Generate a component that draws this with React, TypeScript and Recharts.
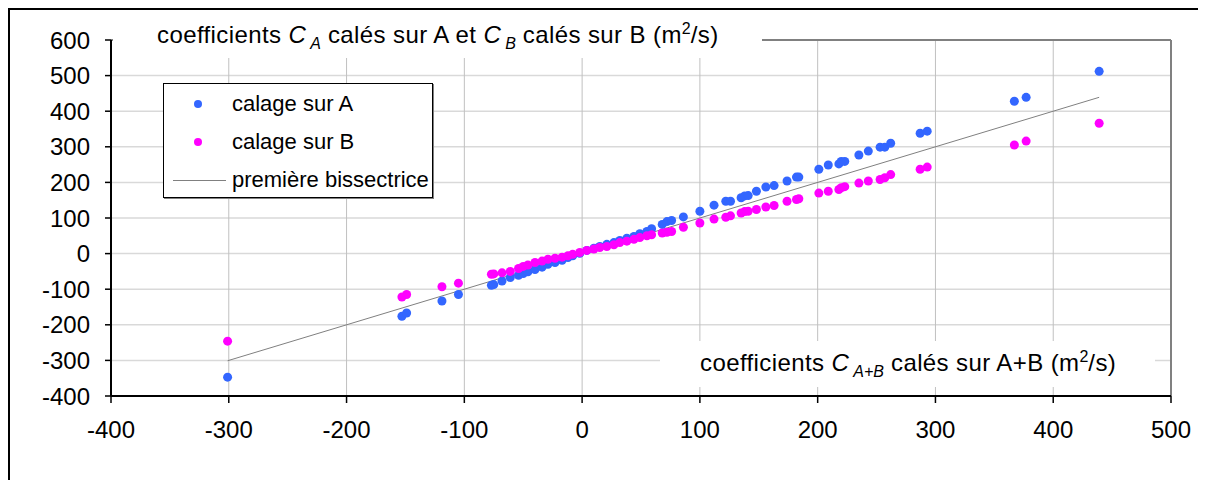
import React from 'react';
import {
  ScatterChart,
  Scatter,
  XAxis,
  YAxis,
  CartesianGrid,
  ReferenceLine,
} from 'recharts';

// C(A+B) on the x axis, the matching C(A) and C(B) on the y axis
const coeffAB = [
  -301, -153, -149, -119, -105, -77, -75, -68, -61, -54, -50, -46, -40, -34, -29, -23, -17, -12, -8, -2,
  4, 10, 15, 21, 27, 32, 38, 44, 49, 55, 59, 68, 72, 76, 86, 100, 112, 122, 126, 135,
  138, 141, 148, 156, 163, 174, 182, 184, 201, 209, 218, 220, 223, 235, 243, 253, 257, 262, 287, 293,
  367, 377, 439,
];
const calageA = [
  -347, -176, -167, -133, -115, -89, -87, -77, -67, -61, -56, -51, -45, -38, -30, -25, -19, -11, -6, 1,
  9, 15, 20, 26, 31, 37, 43, 48, 56, 62, 70, 82, 90, 93, 103, 119, 136, 147, 147, 157,
  162, 163, 175, 187, 191, 204, 215, 215, 237, 249, 252, 259, 259, 277, 288, 299, 299, 310, 338, 344,
  428, 439, 512,
];
const calageB = [
  -246, -122, -115, -93, -83, -58, -57, -54, -50, -42, -36, -32, -25, -21, -16, -13, -10, -6, -2, 3,
  9, 13, 17, 20, 25, 31, 35, 40, 45, 50, 53, 58, 60, 62, 74, 86, 97, 102, 106, 114,
  118, 119, 124, 131, 135, 147, 152, 154, 170, 175, 180, 185, 188, 198, 204, 208, 213, 222, 237, 243,
  305, 316, 366,
];
const xTicks = [-400, -300, -200, -100, 0, 100, 200, 300, 400, 500];
const yTicks = [-400, -300, -200, -100, 0, 100, 200, 300, 400, 500, 600];

const seriesNames = ['calage sur A', 'calage sur B', 'première bissectrice'];
const seriesColors = ['#3366ff', '#ff00ff', '#808080'];

const pointsA = coeffAB.map((x, i) => ({ x, y: calageA[i] }));
const pointsB = coeffAB.map((x, i) => ({ x, y: calageB[i] }));
const xMin = Math.min(...coeffAB);
const xMax = Math.max(...coeffAB);

const FONT = '"Liberation Sans", Arial, sans-serif';

const dot = (color: string) => (props: any) =>
  <circle cx={props.cx} cy={props.cy} r={4.5} fill={color} />;

const sub = (t: string) => (
  <span style={{ fontSize: 16, fontStyle: 'italic', position: 'relative', top: 6, marginLeft: 4, letterSpacing: 0 }}>{t}</span>
);
const sup = (t: string) => (
  <span style={{ fontSize: 16, position: 'relative', top: -9, letterSpacing: 0 }}>{t}</span>
);

const LegendBox = () => (
  <div
    style={{
      position: 'absolute', left: 163, top: 83, width: 270, height: 115, boxSizing: 'border-box',
      border: '1px solid #000', boxShadow: '1px 1px 0 #808080', background: '#fff',
      fontFamily: FONT, fontSize: 22,
    }}
  >
    {seriesNames.map((name, i) => (
      <div key={name} style={{ position: 'absolute', left: 0, top: 20 + i * 38 - 14, height: 28, width: '100%' }}>
        {i < 2 ? (
          <div style={{ position: 'absolute', left: 30, top: 10, width: 8, height: 8, borderRadius: 4, background: seriesColors[i] }} />
        ) : (
          <div style={{ position: 'absolute', left: 9, top: 14, width: 53, height: 1, background: seriesColors[i] }} />
        )}
        <div style={{ position: 'absolute', left: 68, top: 0, lineHeight: '28px', whiteSpace: 'nowrap' }}>{name}</div>
      </div>
    ))}
  </div>
);

const titleStyle: React.CSSProperties = {
  position: 'absolute', background: '#fff', fontFamily: FONT, fontSize: 24, letterSpacing: 0.4,
  boxSizing: 'border-box', whiteSpace: 'nowrap', height: 46,
};

export default function App() {
  return (
    <div
      style={{
        position: 'relative', width: 1196, height: 470, overflow: 'hidden',
        borderTop: '2px solid #000', borderLeft: '2px solid #000', background: '#fff',
      }}
    >
      <div style={{ position: 'absolute', left: -10, top: -10, width: 1206, height: 482 }}>
        <ScatterChart width={1206} height={482} margin={{ top: 40, right: 35, bottom: 36, left: 51 }}>
          <CartesianGrid vertical={false} stroke="#d9d9d9" strokeWidth={1.5} />
          <CartesianGrid horizontal={false} stroke="#c0c0c0" />
          <XAxis
            type="number"
            dataKey="x"
            domain={[-400, 500]}
            ticks={xTicks}
            height={50}
            tickSize={7}
            tickMargin={18}
            axisLine={{ stroke: '#000', strokeWidth: 2 }}
            tickLine={{ stroke: '#000', strokeWidth: 1.5 }}
            tick={{ fill: '#000', fontSize: 24, fontFamily: FONT }}
          />
          <YAxis
            type="number"
            dataKey="y"
            domain={[-400, 600]}
            ticks={yTicks}
            width={60}
            tickSize={6}
            tickMargin={15}
            axisLine={{ stroke: '#000', strokeWidth: 2 }}
            tickLine={{ stroke: '#000', strokeWidth: 1.5 }}
            tick={{ fill: '#000', fontSize: 24, fontFamily: FONT }}
          />
          <ReferenceLine x={500} stroke="#808080" strokeWidth={2} />
          <ReferenceLine y={600} stroke="#808080" strokeWidth={2} />
          <ReferenceLine
            segment={[{ x: xMin, y: xMin }, { x: xMax, y: xMax }]}
            stroke={seriesColors[2]}
            strokeWidth={1}
          />
          <Scatter name={seriesNames[0]} data={pointsA} fill={seriesColors[0]} shape={dot(seriesColors[0])} isAnimationActive={false} />
          <Scatter name={seriesNames[1]} data={pointsB} fill={seriesColors[1]} shape={dot(seriesColors[1])} isAnimationActive={false} />
        </ScatterChart>

        <div style={{ ...titleStyle, left: 113, top: 12, width: 649, lineHeight: '46px', paddingLeft: 44 }}>
          coefficients <i>C</i>{sub('A')} calés sur A et <i>C</i>{sub('B')} calés sur B (m{sup('2')}/s)
        </div>

        <div style={{ ...titleStyle, left: 660, top: 341, width: 495, lineHeight: '44px', paddingLeft: 40 }}>
          coefficients <i>C</i>{sub('A+B')} calés sur A+B (m{sup('2')}/s)
        </div>

        <LegendBox />
      </div>
    </div>
  );
}
